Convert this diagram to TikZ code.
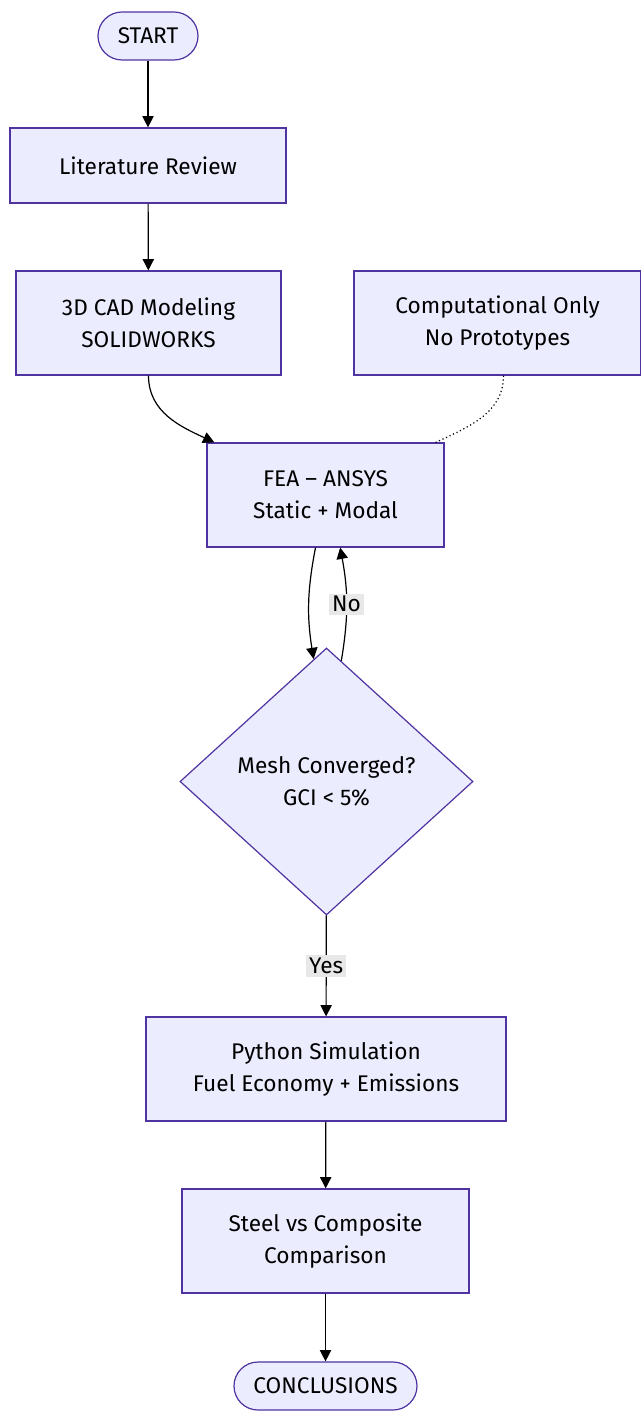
\documentclass[tikz,border=0pt]{standalone}
\usepackage{fontspec}
\setmainfont{Fira Sans}
\usetikzlibrary{shapes.geometric,arrows.meta}
\definecolor{boxfill}{HTML}{ECECFF}
\definecolor{boxline}{HTML}{4F33A0}
\definecolor{labelfill}{HTML}{E8E8E8}

\begin{document}
\begin{tikzpicture}[x=0.75pt,y=-0.75pt,font=\fontsize{17}{24}\selectfont]
        % Define styles for nodes and arrows
        \tikzstyle{terminal} = [rectangle, rounded corners=18pt, minimum width=75pt, minimum height=36pt, text centered, draw=boxline, fill=boxfill, line width=0.9pt]
        \tikzstyle{box} = [rectangle, minimum height=78pt, align=center, draw=boxline, fill=boxfill, line width=0.9pt]
        \tikzstyle{decision} = [diamond, aspect=1.097, minimum width=219.75pt, minimum height=200.25pt, inner sep=0pt, align=center, draw=boxline, fill=boxfill, line width=0.9pt]
        \tikzstyle{arrow} = [line width=0.9pt, ->, >={Triangle[length=8.5pt,width=8.5pt]}]
        \tikzstyle{edgelabel} = [fill=labelfill, inner sep=2pt]

        \useasboundingbox (0,0) rectangle (641,1412);

        \node (start) [terminal] at (148,36) {START};
        \node (lit) [box, minimum height=56.25pt, minimum width=207pt] at (148,165.5) {Literature Review};
        \node (cad) [box, minimum width=198.75pt] at (148.5,323) {3D CAD Modeling\\SOLIDWORKS};
        \node (comp) [box, minimum width=215.25pt] at (497.5,323) {Computational Only\\No Prototypes};
        \node (fea) [box, minimum width=177.75pt] at (325.5,495) {FEA – ANSYS\\Static + Modal};
        \node (mesh) [decision] at (326.5,781.5) {Mesh Converged?\\GCI < 5\%};
        \node (python) [box, minimum width=270pt] at (326,1069) {Python Simulation\\Fuel Economy + Emissions};
        \node (steel) [box, minimum width=215.25pt] at (325.5,1241) {Steel vs Composite\\Comparison};
        \node (concl) [terminal, minimum width=137.25pt] at (325.5,1386) {CONCLUSIONS};

        % Arrows
        \draw [arrow] (start) -- (lit);
        \draw [arrow] (lit) -- (cad);
        \draw [arrow] (cad.south) to[out=-90, in=155] ([xshift=6pt]fea.north west);
        \draw [line width=0.9pt, dotted] ([xshift=4.5pt]comp.south) to[out=-90, in=25] ([xshift=-6.75pt]fea.north east);
        \draw [arrow] ([xshift=-7.5pt]fea.south) to[bend right=10] (mesh.96);
        \draw [arrow] (mesh.83) to[bend right=10] node[edgelabel, pos=0.5] {No} ([xshift=11pt]fea.south);
        \draw [arrow] (mesh) -- (python) node[edgelabel, pos=0.5] {Yes};
        \draw [arrow] (python) -- (steel);
        \draw [arrow] (steel) -- (concl);
    \end{tikzpicture}
\end{document}
